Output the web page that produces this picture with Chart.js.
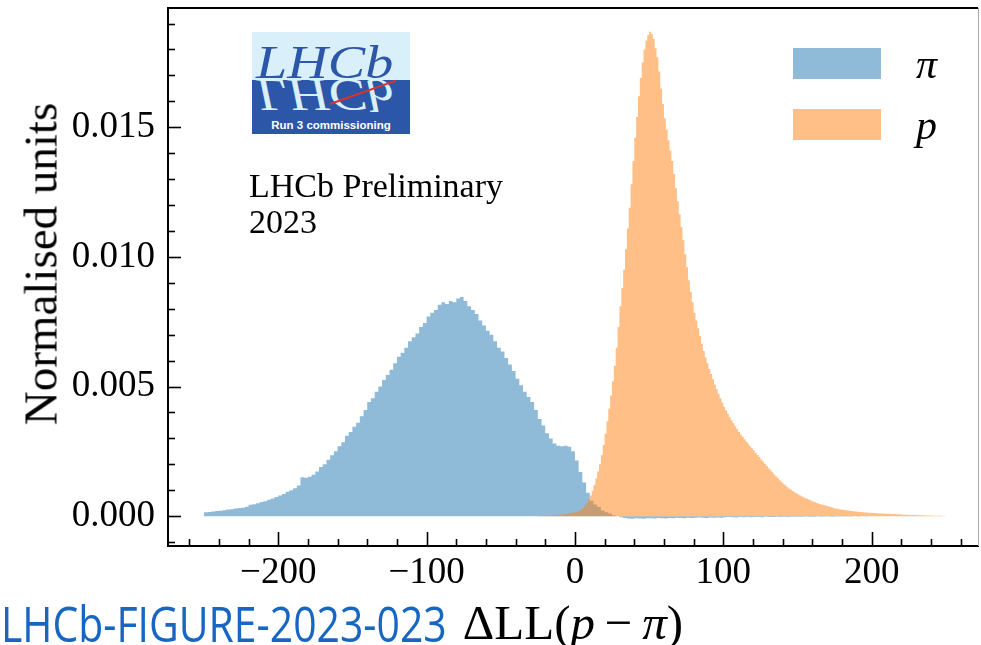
<!DOCTYPE html>
<html>
<head>
<meta charset="utf-8">
<script src="https://cdn.jsdelivr.net/npm/chart.js@4.4.1/dist/chart.umd.min.js"></script>
<style>
  html, body { margin: 0; padding: 0; background: #fff; }
  #wrap { position: relative; width: 981px; height: 645px; overflow: hidden; }
  #chart { position: absolute; left: 0; top: 0; }
  .abs { position: absolute; white-space: nowrap; }
  .serif { font-family: "Liberation Serif", "Times New Roman", serif; color: #000; }
  #prelim { left: 249px; top: 168px; font-size: 34px; line-height: 36px; }
  #ytitle { left: 41px; top: 264px; font-size: 47px; line-height: 47px; transform: translate(-50%, -50%) rotate(-90deg); }
  #xtitle { left: 573px; top: 598px; font-size: 49px; line-height: 49px; transform: translateX(-50%); }
  #figref { left: 1px; top: 599px; font-family: "Open Sans", sans-serif; font-size: 49px; line-height: 49px;
            color: #1767c2; transform: scaleX(0.835); transform-origin: left top; }
  .legbox { position: absolute; left: 793px; width: 88px; height: 31px; }
  .leglabel { left: 916px; font-size: 42px; line-height: 42px; font-style: italic; }
  #logo { left: 252px; top: 32px; width: 158px; height: 102px; overflow: hidden;
          background: linear-gradient(#d9eff9 0, #d9eff9 47%, #2c56a8 47%, #2c56a8 100%); }
  #logo .lhcb { position: absolute; left: 4px; width: 140px; font-family: "Liberation Serif", serif;
                font-style: italic; font-size: 46px; line-height: 46px; transform-origin: left top; }
  #logo .top { top: 8px; color: #2c56a8; transform: scaleX(1.22); }
  #logo .mirror { top: 85px; color: #d9eff9; transform: scaleX(1.22) scaleY(-1); }
  #logo .red { position: absolute; left: 78px; top: 71px; width: 70px; height: 2px; background: #e0302a;
               transform: rotate(-19.5deg); transform-origin: left center; }
  #logo .run { position: absolute; left: 0; width: 158px; top: 87px; text-align: center; color: #fff;
               font-family: "Liberation Sans", Arial, sans-serif; font-weight: bold; font-size: 11.5px; }
</style>
</head>
<body>
<div id="wrap">
  <canvas id="chart" width="981" height="645"></canvas>
  <div id="logo" class="abs">
    <div class="lhcb top">LHCb</div>
    <div class="lhcb mirror">LHCb</div>
    <div class="red"></div>
    <div class="run">Run 3 commissioning</div>
  </div>
  <div id="prelim" class="abs serif">LHCb Preliminary<br>2023</div>
  <div id="legend"></div>
  <div id="ytitle" class="abs serif">Normalised units</div>
  <div id="xtitle" class="abs serif">ΔLL(<i>p</i>&#8201;−&#8201;<i>π</i>)</div>
  <div id="figref" class="abs">LHCb-FIGURE-2023-023</div>
</div>
<script>
// pion histogram: 200 bins of width 2.5 from -250 to 250
const pionBinStart = -250;
const pionBinWidth = 2.5;
const pionValues = [
  0.00015, 0.00016, 0.00018, 0.00020, 0.00021, 0.00023, 0.00026, 0.00027, 0.00030, 0.00032,
  0.00033, 0.00036, 0.00044, 0.00046, 0.00050, 0.00055, 0.00058, 0.00063, 0.00068, 0.00074,
  0.00080, 0.00086, 0.00094, 0.00100, 0.00108, 0.00118, 0.00150, 0.00148, 0.00152, 0.00160,
  0.00172, 0.00190, 0.00200, 0.00218, 0.00235, 0.00250, 0.00270, 0.00285, 0.00310, 0.00325,
  0.00345, 0.00360, 0.00385, 0.00410, 0.00440, 0.00455, 0.00480, 0.00500, 0.00525, 0.00545,
  0.00565, 0.00590, 0.00615, 0.00630, 0.00650, 0.00675, 0.00690, 0.00705, 0.00730, 0.00745,
  0.00770, 0.00785, 0.00795, 0.00815, 0.00825, 0.00818, 0.00830, 0.00825, 0.00840, 0.00845,
  0.00830, 0.00810, 0.00795, 0.00780, 0.00755, 0.00735, 0.00715, 0.00700, 0.00675, 0.00650,
  0.00635, 0.00610, 0.00585, 0.00560, 0.00530, 0.00505, 0.00480, 0.00460, 0.00440, 0.00410,
  0.00375, 0.00350, 0.00320, 0.00300, 0.00280, 0.00272, 0.00270, 0.00272, 0.00268, 0.00250,
  0.00215, 0.00170, 0.00130, 0.00090, 0.00060, 0.00045, 0.00035, 0.00022, 0.00015, 0.00010,
  0.00004, 0.00000, -0.00004, -0.00007, -0.00009, -0.00010, -0.00008, -0.00009, -0.00010, -0.00008,
  -0.00008, -0.00009, -0.00007, -0.00008, -0.00009, -0.00007, -0.00008, -0.00006, -0.00007, -0.00008,
  -0.00006, -0.00007, -0.00006, -0.00005, -0.00006, -0.00007, -0.00005, -0.00006, -0.00005, -0.00006,
  -0.00004, -0.00003, -0.00004, -0.00005, -0.00003, -0.00004, -0.00003, -0.00004, -0.00003, -0.00003,
  -0.00004, -0.00002, -0.00003, -0.00003, -0.00002, -0.00003, -0.00002, -0.00003, -0.00002, -0.00002,
  -0.00002, -0.00002, -0.00001, -0.00002, -0.00002, -0.00001, -0.00002, -0.00001, -0.00001, -0.00002,
  -0.00001, -0.00001, -0.00001, -0.00001, -0.00001, 0, -0.00001, 0, -0.00001, 0,
  0, 0, 0, 0, 0, 0, 0, 0, 0, 0,
  0, 0, 0, 0, 0, 0, 0, 0, 0, 0
];

// proton histogram: 220 bins of width 1.25 from -25 to 250 (empty below -25)
const protonBinStart = -25;
const protonBinWidth = 1.25;
const protonValues = [
  0.00001, 0.00001, 0.00001, 0.00002, 0.00002, 0.00002, 0.00003, 0.00003, 0.00004, 0.00004,
  0.00005, 0.00006, 0.00006, 0.00007, 0.00008, 0.00009, 0.00010, 0.00011, 0.00013, 0.00014,
  0.00016, 0.00018, 0.00021, 0.00026, 0.00032, 0.00040, 0.00050, 0.00064, 0.00080, 0.00098,
  0.00120, 0.00145, 0.00172, 0.00200, 0.00235, 0.00275, 0.00318, 0.00365, 0.00415, 0.00465,
  0.00520, 0.00580, 0.00650, 0.00730, 0.00810, 0.00880, 0.00950, 0.01030, 0.01110, 0.01190,
  0.01280, 0.01370, 0.01460, 0.01540, 0.01620, 0.01690, 0.01750, 0.01800, 0.01835, 0.01855,
  0.01868, 0.01860, 0.01840, 0.01805, 0.01770, 0.01715, 0.01650, 0.01590, 0.01535, 0.01490,
  0.01450, 0.01410, 0.01370, 0.01320, 0.01265, 0.01215, 0.01165, 0.01115, 0.01065, 0.01010,
  0.00960, 0.00910, 0.00865, 0.00825, 0.00785, 0.00755, 0.00725, 0.00695, 0.00665, 0.00637,
  0.00612, 0.00590, 0.00568, 0.00548, 0.00528, 0.00508, 0.00490, 0.00472, 0.00455, 0.00438,
  0.00422, 0.00408, 0.00395, 0.00382, 0.00370, 0.00358, 0.00347, 0.00336, 0.00325, 0.00315,
  0.00306, 0.00297, 0.00288, 0.00279, 0.00270, 0.00262, 0.00253, 0.00245, 0.00236, 0.00228,
  0.00219, 0.00211, 0.00202, 0.00194, 0.00185, 0.00177, 0.00169, 0.00161, 0.00153, 0.00146,
  0.00139, 0.00132, 0.00125, 0.00119, 0.00113, 0.00107, 0.00102, 0.00097, 0.00092, 0.00088,
  0.00084, 0.00080, 0.00076, 0.00072, 0.00069, 0.00066, 0.00063, 0.00060, 0.00057, 0.00054,
  0.00051, 0.00048, 0.00046, 0.00044, 0.00042, 0.00040, 0.00038, 0.00036, 0.00034, 0.00032,
  0.00030, 0.00029, 0.00027, 0.00026, 0.00025, 0.00024, 0.00023, 0.00022, 0.00021, 0.00020,
  0.00019, 0.00018, 0.00017, 0.00016, 0.00016, 0.00015, 0.00014, 0.00014, 0.00013, 0.00013,
  0.00012, 0.00012, 0.00011, 0.00011, 0.00010, 0.00010, 0.00010, 0.00009, 0.00009, 0.00009,
  0.00008, 0.00008, 0.00008, 0.00007, 0.00007, 0.00007, 0.00006, 0.00006, 0.00006, 0.00006,
  0.00005, 0.00005, 0.00005, 0.00005, 0.00004, 0.00004, 0.00004, 0.00004, 0.00003, 0.00003,
  0.00003, 0.00003, 0.00003, 0.00002, 0.00002, 0.00002, 0.00002, 0.00002, 0.00001, 0.00001
];

const seriesNames = ['π', 'p'];
const seriesColors = ['rgba(31, 119, 180, 0.5)', 'rgba(255, 127, 14, 0.5)'];
const xTickValues = [-200, -100, 0, 100, 200];
const yTickValues = [0, 0.005, 0.010, 0.015];

document.addEventListener('DOMContentLoaded', () => {
    const serif = '"Liberation Serif", "Times New Roman", serif';

    // bin left edges + closing edge, drawn as a stepped filled line
    function toSteps(values, start, width) {
        const pts = values.map((v, i) => ({ x: start + i * width, y: v }));
        pts.push({ x: start + values.length * width, y: 0 });
        return pts;
    }

    // legend built as html next to the plot
    const legendDiv = document.getElementById('legend');
    legendDiv.innerHTML = seriesNames.map((name, i) => `
        <div class="legbox" style="top:${48 + i * 61}px;background:${seriesColors[i]}"></div>
        <div class="abs serif leglabel" style="top:${43 + i * 61}px">${name}</div>
    `).join('');

    // matplotlib-like inward ticks and the top/right frame
    const innerTicks = {
        id: 'innerTicks',
        afterDraw(chart) {
            const { ctx, chartArea: a, scales: { x, y } } = chart;
            const line = (x1, y1, x2, y2) => {
                ctx.beginPath(); ctx.moveTo(x1, y1); ctx.lineTo(x2, y2); ctx.stroke();
            };
            ctx.save();
            ctx.strokeStyle = '#000';
            ctx.lineWidth = 1.6;
            for (let k = Math.ceil(x.min / 20); k * 20 <= x.max; k++) {
                const px = Math.round(x.getPixelForValue(k * 20)) + 0.5;
                line(px, a.bottom, px, a.bottom - (k % 5 === 0 ? 14 : 7));
            }
            for (let k = Math.ceil(y.min / 0.001); k * 0.001 <= y.max; k++) {
                const py = Math.round(y.getPixelForValue(k * 0.001)) + 0.5;
                line(a.left, py, a.left + (k % 5 === 0 ? 13 : 7), py);
            }
            ctx.lineWidth = 2;
            line(a.left - 1, a.top, a.right, a.top);
            ctx.strokeStyle = '#aaa';
            ctx.lineWidth = 1;
            line(a.right + 0.5, a.top, a.right + 0.5, a.bottom);
            ctx.restore();
        }
    };

    const ctx = document.getElementById('chart').getContext('2d');
    new Chart(ctx, {
        type: 'line',
        data: {
            datasets: [
                {
                    label: seriesNames[0],
                    data: toSteps(pionValues, pionBinStart, pionBinWidth),
                    stepped: 'before',
                    fill: 'origin',
                    backgroundColor: seriesColors[0],
                    borderColor: 'transparent',
                    borderWidth: 0,
                    pointRadius: 0,
                    order: 2
                },
                {
                    label: seriesNames[1],
                    data: toSteps(protonValues, protonBinStart, protonBinWidth),
                    stepped: 'before',
                    fill: 'origin',
                    backgroundColor: seriesColors[1],
                    borderColor: 'transparent',
                    borderWidth: 0,
                    pointRadius: 0,
                    order: 1
                }
            ]
        },
        options: {
            responsive: false,
            animation: false,
            devicePixelRatio: 1,
            layout: { padding: { left: 0, top: 8, right: 3, bottom: 0 } },
            scales: {
                x: {
                    type: 'linear',
                    min: -274.3,
                    max: 271.7,
                    afterBuildTicks: s => { s.ticks = xTickValues.map(v => ({ value: v })); },
                    afterFit: s => { s.height = 99; s.paddingLeft = 0; s.paddingRight = 0; },
                    grid: { display: false, drawTicks: false },
                    border: { display: true, color: '#000', width: 2 },
                    ticks: {
                        color: '#000',
                        font: { family: serif, size: 37 },
                        padding: 5,
                        maxRotation: 0,
                        autoSkip: false,
                        callback: v => (v < 0 ? '\u2212' + Math.abs(v) : String(v))
                    }
                },
                y: {
                    min: -0.00115,
                    max: 0.0196,
                    afterBuildTicks: s => { s.ticks = yTickValues.map(v => ({ value: v })); },
                    afterFit: s => { s.width = 168; s.paddingTop = 0; s.paddingBottom = 0; },
                    grid: { display: false, drawTicks: false },
                    border: { display: true, color: '#000', width: 2 },
                    ticks: {
                        color: '#000',
                        font: { family: serif, size: 37 },
                        padding: 13,
                        callback: v => v.toFixed(3)
                    }
                }
            },
            plugins: {
                legend: { display: false },
                tooltip: { enabled: false }
            }
        },
        plugins: [innerTicks]
    });
});
</script>
</body>
</html>
